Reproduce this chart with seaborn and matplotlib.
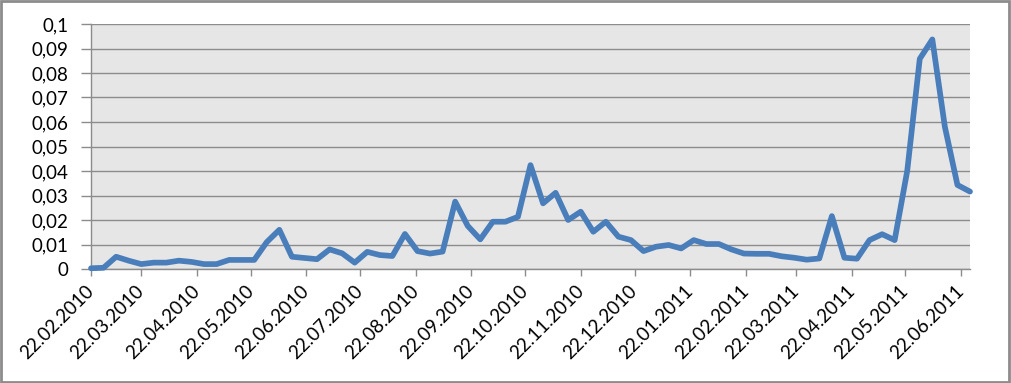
import matplotlib
matplotlib.use("Agg")
import matplotlib.pyplot as plt
import matplotlib.dates as mdates
from matplotlib.ticker import FuncFormatter
from matplotlib.patches import Rectangle
import seaborn as sns
import pandas as pd

# weekly observations starting 22.02.2010
start_date = "2010-02-22"
n_weeks = 71
values = [
    0.0003, 0.0005, 0.0050, 0.0034, 0.0020, 0.0026, 0.0026, 0.0034, 0.0029, 0.0020,
    0.0020, 0.0037, 0.0037, 0.0037, 0.0110, 0.0160, 0.0050, 0.0045, 0.0040, 0.0080,
    0.0064, 0.0026, 0.0070, 0.0057, 0.0053, 0.0143, 0.0073, 0.0063, 0.0071, 0.0275,
    0.0176, 0.0121, 0.0193, 0.0193, 0.0213, 0.0424, 0.0268, 0.0311, 0.0200, 0.0234,
    0.0152, 0.0193, 0.0132, 0.0118, 0.0073, 0.0091, 0.0098, 0.0084, 0.0118, 0.0102,
    0.0102, 0.0080, 0.0063, 0.0062, 0.0062, 0.0052, 0.0046, 0.0038, 0.0043, 0.0216,
    0.0046, 0.0042, 0.0118, 0.0142, 0.0118, 0.0400, 0.0858, 0.0937, 0.0580, 0.0343,
    0.0316,
]
dates = pd.date_range(start_date, periods=n_weeks, freq="7D")
df = pd.DataFrame({"date": dates, "value": values})

y_ticks = [0.0, 0.01, 0.02, 0.03, 0.04, 0.05, 0.06, 0.07, 0.08, 0.09, 0.1]

plt.rcParams["font.family"] = ["Lato", "DejaVu Sans"]

fig = plt.figure(figsize=(10.11, 3.83), dpi=100)
ax = fig.add_axes([91 / 1011, 1 - 269 / 383, (970 - 91) / 1011, (269 - 24) / 383])
ax.set_facecolor("#E6E6E6")

sns.lineplot(data=df, x="date", y="value", ax=ax, color="#4A7EBB",
             linewidth=4.1, solid_joinstyle="round", solid_capstyle="round",
             zorder=3, clip_on=False)

ax.set_xlim(dates[0], dates[-1])
ax.set_ylim(0, 0.1)
ax.set_yticks(y_ticks)
ax.yaxis.set_major_formatter(FuncFormatter(
    lambda v, p: "0" if abs(v) < 1e-9 else f"{v:.2f}".rstrip("0").replace(".", ",")))
ax.grid(axis="y", color="#8C8C8C", linewidth=1.0, zorder=1)
ax.grid(axis="x", visible=False)
ax.set_axisbelow(True)

ax.xaxis.set_major_locator(mdates.MonthLocator(bymonthday=22))
ax.xaxis.set_major_formatter(mdates.DateFormatter("%d.%m.%Y"))

for side in ["top", "right"]:
    ax.spines[side].set_visible(False)
for side in ["left", "bottom"]:
    ax.spines[side].set_color("#8C8C8C")
    ax.spines[side].set_linewidth(1.0)

ax.tick_params(axis="y", length=7, width=1.0, color="#8C8C8C", pad=9,
               labelsize=13.5, labelcolor="black")
ax.tick_params(axis="x", length=5, width=1.0, color="#8C8C8C", pad=9,
               labelsize=13.5, labelcolor="black")
for lab in ax.get_xticklabels():
    lab.set_rotation(45)
    lab.set_ha("right")
    lab.set_va("center")
    lab.set_rotation_mode("anchor")

ax.set_xlabel("")
ax.set_ylabel("")

fig.patches.append(Rectangle((0.001, 0.002), 0.997, 0.995, transform=fig.transFigure,
                             fill=False, edgecolor="#8C8C8C", linewidth=2.0))

fig.savefig("out.png", dpi=100)
